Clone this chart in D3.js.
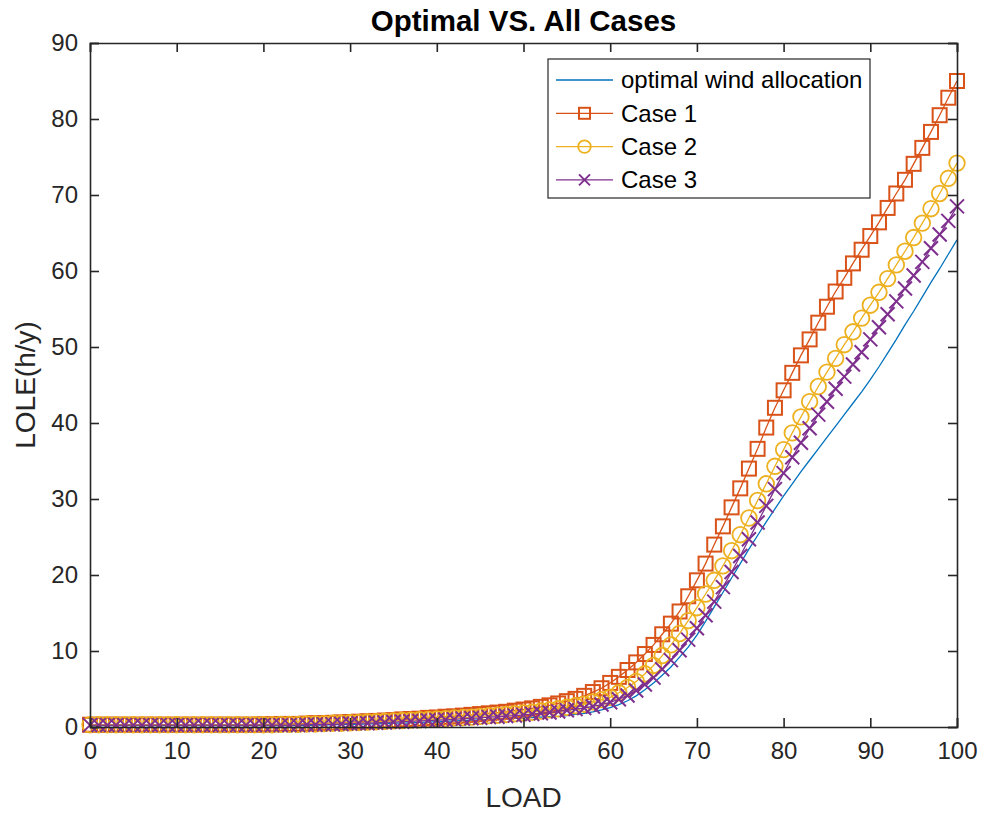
<!DOCTYPE html>
<html><head><meta charset="utf-8">
<script src="https://cdn.jsdelivr.net/npm/d3@7"></script>
<style>body{margin:0;background:#fff}svg{display:block}</style>
</head><body>
<div id="chart"></div>
<script>
const loads = d3.range(0, 101);
const xTicks = [0,10,20,30,40,50,60,70,80,90,100];
const yTicks = [0,10,20,30,40,50,60,70,80,90];
const seriesNames = ["optimal wind allocation","Case 1","Case 2","Case 3"];

const optimal = [
0.2,0.2,0.2,0.2,0.2,0.2,0.2,0.2,0.2,0.2,
0.2,0.2,0.2,0.2,0.2,0.2,0.2,0.2,0.2,0.2,
0.2,0.2,0.2,0.2,0.2,0.2,0.25,0.25,0.3,0.3,
0.35,0.35,0.4,0.4,0.45,0.5,0.5,0.55,0.6,0.65,
0.7,0.75,0.8,0.85,0.9,0.95,1.0,1.05,1.1,1.15,
1.2,1.25,1.3,1.35,1.4,1.5,1.65,1.8,2.0,2.25,
2.55,2.95,3.45,4.1,4.9,5.8,6.8,7.9,9.2,10.5,
12.1,13.9,15.8,17.7,19.6,21.5,23.4,25.2,27.0,28.7,
30.4,32.0,33.6,35.1,36.6,38.1,39.6,41.1,42.6,44.1,
45.7,47.4,49.2,51.0,52.9,54.7,56.6,58.5,60.3,62.2,64.1];

const case1 = [
0.3,0.3,0.3,0.3,0.3,0.3,0.3,0.3,0.3,0.3,
0.3,0.3,0.3,0.3,0.3,0.3,0.3,0.3,0.3,0.3,
0.35,0.35,0.4,0.4,0.4,0.45,0.5,0.5,0.55,0.6,
0.65,0.7,0.75,0.8,0.85,0.9,1.0,1.05,1.1,1.2,
1.25,1.35,1.4,1.5,1.6,1.7,1.8,1.9,2.0,2.15,
2.3,2.45,2.65,2.85,3.1,3.4,3.7,4.1,4.6,5.1,
5.8,6.6,7.5,8.5,9.6,10.8,12.2,13.6,15.2,17.2,
19.3,21.5,24.0,26.4,28.9,31.4,34.0,36.6,39.4,42.0,
44.3,46.6,48.9,51.0,53.2,55.3,57.3,59.1,61.0,62.8,
64.6,66.4,68.3,70.2,72.0,74.1,76.2,78.3,80.5,82.8,85.0];

const case2 = [
0.3,0.3,0.3,0.3,0.3,0.3,0.3,0.3,0.3,0.3,
0.3,0.3,0.3,0.3,0.3,0.3,0.3,0.3,0.3,0.3,
0.3,0.3,0.35,0.35,0.35,0.4,0.4,0.45,0.5,0.5,
0.55,0.6,0.65,0.7,0.75,0.8,0.85,0.9,0.95,1.0,
1.05,1.1,1.2,1.25,1.3,1.4,1.5,1.55,1.65,1.75,
1.85,1.95,2.1,2.25,2.4,2.6,2.8,3.0,3.3,3.6,
3.9,4.5,5.2,6.0,7.0,8.1,9.4,10.8,12.3,14.0,
15.7,17.5,19.3,21.2,23.2,25.3,27.5,29.8,32.0,34.3,
36.5,38.7,40.8,42.8,44.8,46.7,48.5,50.3,52.0,53.8,
55.5,57.2,59.0,60.8,62.6,64.4,66.3,68.2,70.2,72.2,74.2];

const case3 = [
0.25,0.25,0.25,0.25,0.25,0.25,0.25,0.25,0.25,0.25,
0.25,0.25,0.25,0.25,0.25,0.25,0.25,0.25,0.25,0.25,
0.25,0.25,0.25,0.25,0.25,0.3,0.3,0.35,0.35,0.4,
0.45,0.5,0.5,0.55,0.6,0.65,0.7,0.75,0.8,0.85,
0.9,0.95,1.0,1.1,1.15,1.2,1.3,1.35,1.45,1.5,
1.6,1.7,1.8,1.9,2.05,2.2,2.35,2.5,2.7,2.95,
3.25,3.65,4.15,4.8,5.6,6.5,7.6,8.8,10.1,11.5,
13.0,14.7,16.5,18.4,20.4,22.5,24.7,26.9,29.1,31.3,
33.4,35.5,37.4,39.3,41.1,42.8,44.5,46.1,47.7,49.3,
51.0,52.6,54.3,56.0,57.7,59.4,61.2,63.0,64.8,66.6,68.5];

const W = 984, H = 813;
const m = {left: 90, right: 27, top: 43, bottom: 86};
const svg = d3.select("#chart").append("svg").attr("width", W).attr("height", H);
const x = d3.scaleLinear().domain([0,100]).range([m.left, W - m.right]);
const y = d3.scaleLinear().domain([0,90]).range([H - m.bottom, m.top]);
const axisColor = "#262626";
const font = "'Liberation Sans', Arial, Helvetica, sans-serif";

const colors = ["#0072BD","#D95319","#EDB120","#7E2F8E"];
const markers = [null, "square", "circle", "x"];
const data = [optimal, case1, case2, case3];

const plot = svg.append("g");
const line = d3.line().x((d,i)=>x(loads[i])).y(d=>y(d));

function drawMarker(g, type, cx, cy, color, s) {
  if (type === "square") {
    g.append("rect").attr("x", cx - s/2).attr("y", cy - s/2).attr("width", s).attr("height", s)
      .attr("fill","none").attr("stroke",color).attr("stroke-width",2);
  } else if (type === "circle") {
    g.append("circle").attr("cx", cx).attr("cy", cy).attr("r", s/2 + 0.8)
      .attr("fill","none").attr("stroke",color).attr("stroke-width",1.8);
  } else if (type === "x") {
    const h = s/2;
    g.append("path").attr("d", `M${cx-h},${cy-h}L${cx+h},${cy+h}M${cx-h},${cy+h}L${cx+h},${cy-h}`)
      .attr("fill","none").attr("stroke",color).attr("stroke-width",2);
  }
}

data.forEach((vals, k) => {
  const g = plot.append("g");
  g.append("path").datum(vals).attr("d", line).attr("fill","none")
    .attr("stroke", colors[k]).attr("stroke-width", 1.3);
  if (markers[k]) {
    vals.forEach((v, i) => drawMarker(g, markers[k], x(loads[i]), y(v), colors[k], 14));
  }
});

// Axes box
const gx = svg.append("g").attr("transform", `translate(0,${H - m.bottom})`)
  .call(d3.axisBottom(x).tickValues(xTicks).tickSize(-9).tickPadding(15).tickFormat(d3.format("d")));
const gxt = svg.append("g").attr("transform", `translate(0,${m.top})`)
  .call(d3.axisTop(x).tickValues(xTicks).tickSize(-9).tickFormat(""));
const gy = svg.append("g").attr("transform", `translate(${m.left},0)`)
  .call(d3.axisLeft(y).tickValues(yTicks).tickSize(-9).tickPadding(12).tickFormat(d3.format("d")));
const gyr = svg.append("g").attr("transform", `translate(${W - m.right},0)`)
  .call(d3.axisRight(y).tickValues(yTicks).tickSize(-9).tickFormat(""));
[gx,gxt,gy,gyr].forEach(g => {
  g.select(".domain").attr("stroke", axisColor).attr("stroke-width", 1.6);
  g.selectAll(".tick line").attr("stroke", axisColor).attr("stroke-width", 1.6);
  g.selectAll(".tick text").attr("fill", axisColor).style("font-family", font).style("font-size","24px");
});
gx.selectAll(".tick text").attr("dy", "0.71em");

// Title
svg.append("text").attr("x", (m.left + W - m.right)/2).attr("y", 31).attr("text-anchor","middle")
  .style("font-family", font).style("font-size","29.5px").style("font-weight","bold").attr("fill","#000")
  .text("Optimal VS. All Cases");
// Axis labels
svg.append("text").attr("x", (m.left + W - m.right)/2).attr("y", 807).attr("text-anchor","middle")
  .style("font-family", font).style("font-size","28px").attr("fill", axisColor).text("LOAD");
svg.append("text").attr("transform", `translate(35,${(m.top + H - m.bottom)/2}) rotate(-90)`)
  .attr("text-anchor","middle").style("font-family", font).style("font-size","28px").attr("fill", axisColor)
  .text("LOLE(h/y)");

// Legend
const lg = svg.append("g");
lg.append("rect").attr("x", 548).attr("y", 59).attr("width", 322).attr("height", 139)
  .attr("fill","#fff").attr("stroke", axisColor).attr("stroke-width", 1.2);
seriesNames.forEach((name, k) => {
  const yy = 80 + k * 33.3;
  lg.append("line").attr("x1", 556).attr("x2", 613).attr("y1", yy).attr("y2", yy)
    .attr("stroke", colors[k]).attr("stroke-width", 1.3);
  if (markers[k]) drawMarker(lg, markers[k], 584.5, yy, colors[k], 11);
  lg.append("text").attr("x", 621).attr("y", yy).attr("dy","0.35em")
    .style("font-family", font).style("font-size","24px").attr("fill","#000").text(name);
});
</script>
</body></html>
